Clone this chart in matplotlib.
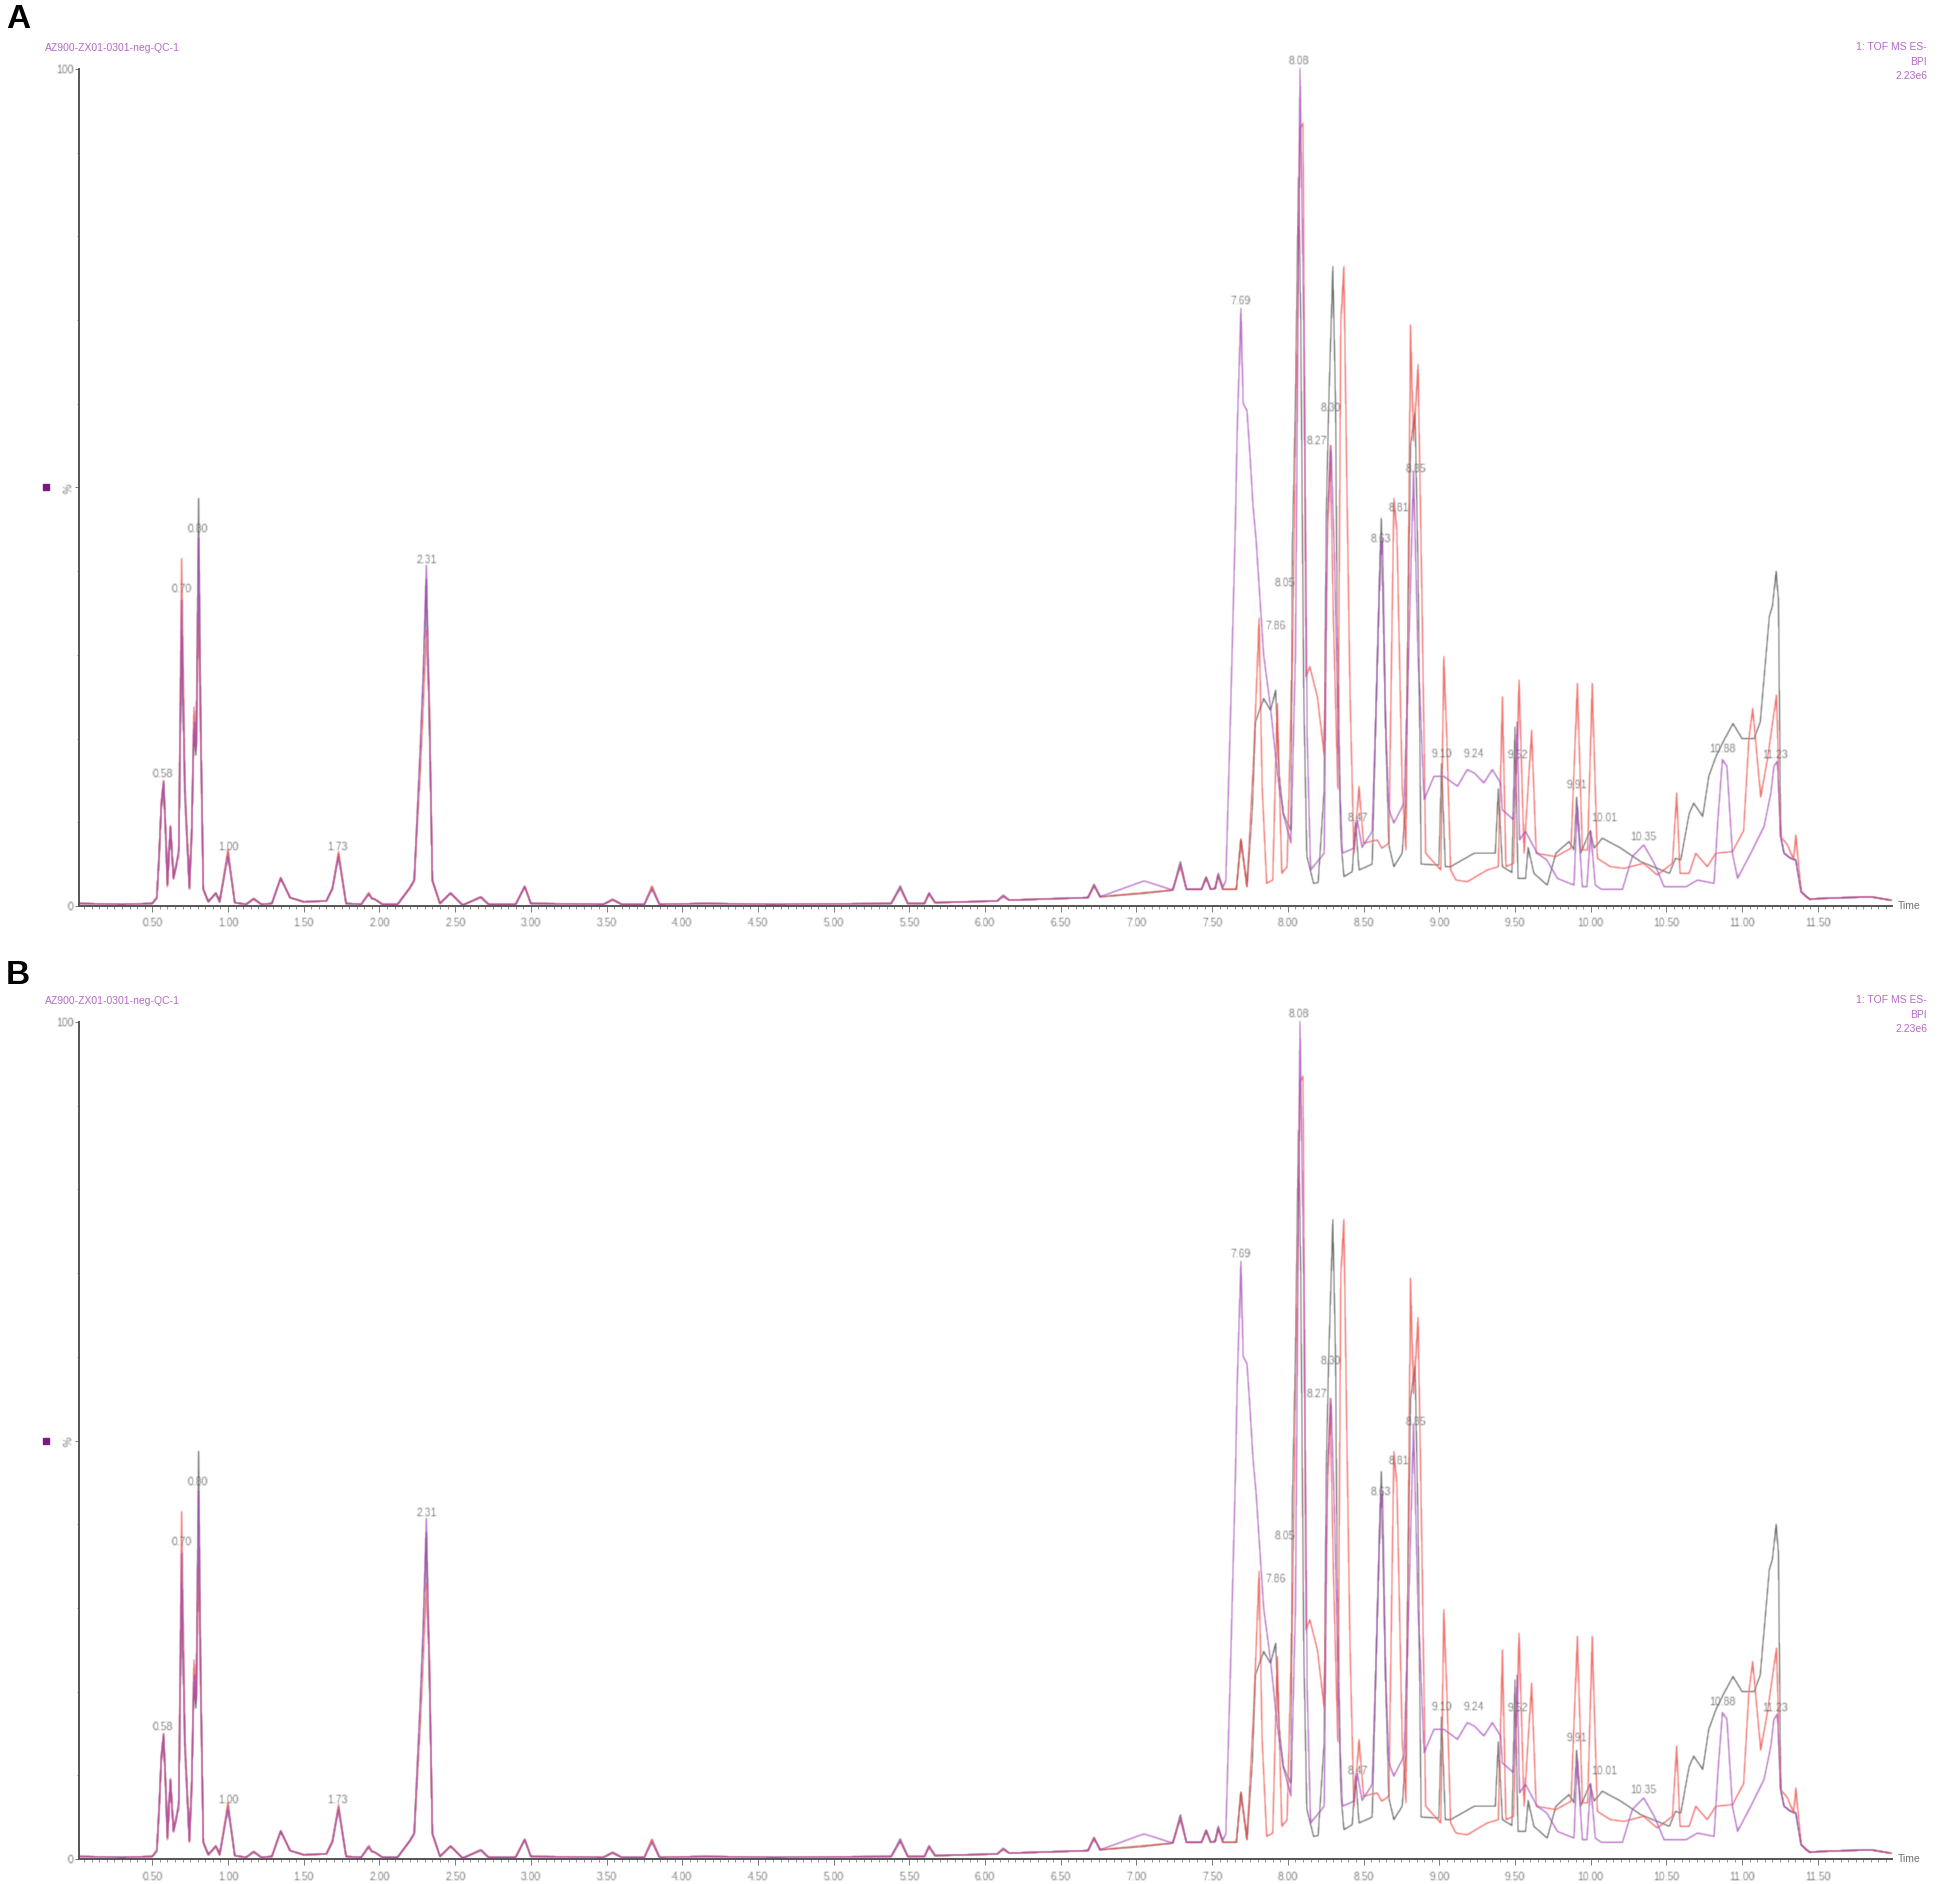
import numpy as np
import matplotlib
matplotlib.use('Agg')
import matplotlib.pyplot as plt
from matplotlib.ticker import FixedLocator, MultipleLocator

plt.rcParams['font.family'] = ['Liberation Sans', 'DejaVu Sans']

# shared retention times up to 7.57 min
t_early = [0.02, 0.30, 0.50, 0.53, 0.545, 0.56, 0.575, 0.59, 0.60, 0.62, 0.64, 0.66, 0.675, 0.694, 0.715,
           0.745, 0.76, 0.775, 0.79, 0.806, 0.82, 0.837, 0.87, 0.92, 0.945, 1.00, 1.045, 1.12, 1.17, 1.22,
           1.29, 1.348, 1.41, 1.50, 1.65, 1.69, 1.73, 1.78, 1.88, 1.93, 1.95, 1.97, 2.02, 2.12, 2.20, 2.23,
           2.27, 2.29, 2.31, 2.33, 2.35, 2.40, 2.47, 2.55, 2.67, 2.72, 2.90, 2.96, 3.00, 3.48, 3.54, 3.60,
           3.75, 3.80, 3.85, 4.15, 4.60, 5.38, 5.44, 5.49, 5.60, 5.63, 5.67, 6.08, 6.12, 6.16, 6.68, 6.72,
           6.76, 7.05, 7.24, 7.29, 7.33, 7.43, 7.46, 7.49, 7.52, 7.54, 7.57]
early_black = [0.3, 0.2, 0.3, 1.0, 6.0, 12.0, 14.6, 8.0, 2.6, 9.4, 3.4, 5.0, 6.5, 33.0, 14.0,
               2.1, 9.0, 20.6, 18.0, 48.7, 22.0, 2.0, 0.5, 1.5, 0.5, 6.3, 0.4, 0.2, 0.9, 0.2,
               0.3, 3.3, 1.0, 0.5, 0.6, 2.2, 6.2, 0.3, 0.2, 1.5, 0.9, 0.8, 0.2, 0.2, 2.1, 3.0,
               18.0, 27.0, 39.0, 22.0, 3.0, 0.3, 1.5, 0.1, 1.1, 0.2, 0.2, 2.3, 0.3, 0.2, 0.8, 0.2,
               0.2, 2.2, 0.2, 0.3, 0.2, 0.3, 2.4, 0.3, 0.3, 1.5, 0.4, 0.6, 1.3, 0.7, 1.0, 2.6,
               1.1, 1.5, 1.9, 5.3, 2.0, 2.0, 3.5, 2.0, 2.1, 3.9, 2.0]
early_red = [0.3, 0.2, 0.3, 1.1, 5.5, 12.5, 14.9, 7.5, 2.3, 9.6, 3.3, 5.2, 6.0, 41.5, 15.0,
             2.0, 8.0, 23.8, 19.0, 37.0, 20.0, 2.0, 0.5, 1.5, 0.5, 6.8, 0.4, 0.2, 0.9, 0.2,
             0.3, 3.3, 1.0, 0.5, 0.6, 2.0, 6.5, 0.3, 0.2, 1.6, 0.9, 0.8, 0.2, 0.2, 2.1, 3.0,
             16.0, 24.0, 33.0, 24.0, 3.0, 0.3, 1.5, 0.1, 1.1, 0.2, 0.2, 2.3, 0.3, 0.2, 0.8, 0.2,
             0.2, 2.4, 0.2, 0.3, 0.2, 0.3, 2.1, 0.3, 0.3, 1.4, 0.4, 0.6, 1.1, 0.7, 1.0, 2.4,
             1.1, 1.6, 1.9, 4.8, 2.0, 2.0, 3.3, 2.0, 2.1, 3.6, 2.0]
early_purple = [0.3, 0.2, 0.3, 0.9, 6.2, 12.2, 15.0, 8.3, 2.5, 9.5, 3.2, 4.8, 7.0, 36.5, 13.0,
                2.2, 8.5, 22.0, 18.5, 44.0, 21.0, 2.0, 0.5, 1.6, 0.5, 6.0, 0.4, 0.2, 0.8, 0.2,
                0.3, 3.4, 1.0, 0.5, 0.6, 2.1, 5.9, 0.3, 0.2, 1.4, 0.9, 0.8, 0.2, 0.2, 2.2, 3.1,
                19.0, 28.0, 40.7, 23.0, 3.1, 0.3, 1.6, 0.1, 1.0, 0.2, 0.2, 2.4, 0.3, 0.2, 0.7, 0.2,
                0.2, 2.0, 0.2, 0.3, 0.2, 0.3, 2.2, 0.3, 0.3, 1.6, 0.4, 0.6, 1.2, 0.7, 1.0, 2.5,
                1.1, 3.0, 1.9, 5.0, 2.0, 2.0, 3.4, 2.0, 2.1, 3.7, 2.2]

# each trace separates after 7.6 min
t_black = [7.62, 7.66, 7.69, 7.73, 7.765, 7.786, 7.84, 7.885, 7.92, 7.94, 7.97, 8.02, 8.03, 8.05, 8.07, 8.085,
           8.105, 8.125, 8.17, 8.20, 8.24, 8.253, 8.27, 8.297, 8.315, 8.325, 8.35, 8.37, 8.425, 8.447, 8.47,
           8.557, 8.58, 8.617, 8.645, 8.667, 8.70, 8.755, 8.777, 8.81, 8.84, 8.86, 8.88, 8.998, 9.015, 9.04,
           9.075, 9.23, 9.37, 9.39, 9.417, 9.48, 9.50, 9.52, 9.57, 9.587, 9.625, 9.713, 9.77, 9.857, 9.89,
           9.907, 9.934, 9.996, 10.022, 10.077, 10.20, 10.33, 10.52, 10.56, 10.595, 10.65, 10.68, 10.74,
           10.78, 10.826, 10.88, 10.94, 11.00, 11.08, 11.12, 11.18, 11.20, 11.225, 11.24, 11.255, 11.277,
           11.32, 11.355, 11.39, 11.445, 11.52, 11.85, 11.98]
v_black = [2.0, 2.0, 8.0, 2.3, 11.5, 22.0, 24.8, 23.4, 25.8, 16.0, 11.0, 9.0, 43.0, 60.0, 87.0, 70.0,
           25.0, 6.0, 2.7, 2.8, 14.0, 46.0, 60.0, 76.4, 60.0, 35.0, 8.0, 3.5, 4.1, 10.0, 4.3,
           5.0, 22.0, 46.3, 22.0, 7.3, 4.7, 6.3, 12.0, 55.0, 58.9, 40.0, 5.0, 4.9, 17.0, 4.7,
           4.7, 6.3, 6.3, 14.0, 4.7, 4.0, 21.4, 3.3, 3.3, 7.0, 3.9, 2.5, 6.3, 7.7, 6.7,
           13.0, 6.3, 9.0, 6.9, 8.1, 6.9, 5.3, 3.9, 5.7, 5.5, 11.0, 12.3, 10.7,
           15.5, 17.8, 19.8, 21.8, 20.0, 20.0, 22.0, 34.6, 35.8, 40.0, 36.6, 8.3, 6.3,
           5.7, 5.5, 1.7, 0.8, 0.9, 1.1, 0.7]

t_red = [7.62, 7.66, 7.69, 7.73, 7.775, 7.81, 7.83, 7.86, 7.90, 7.93, 7.96, 7.995, 8.03, 8.05, 8.08, 8.10, 8.12,
         8.145, 8.195, 8.24, 8.255, 8.28, 8.30, 8.33, 8.35, 8.37, 8.39, 8.41, 8.436, 8.47, 8.50, 8.59, 8.62,
         8.667, 8.70, 8.72, 8.755, 8.78, 8.81, 8.83, 8.86, 8.888, 8.91, 9.01, 9.03, 9.05, 9.075, 9.11, 9.185,
         9.317, 9.39, 9.417, 9.44, 9.49, 9.527, 9.56, 9.61, 9.64, 9.77, 9.87, 9.912, 9.945, 9.98, 10.01,
         10.044, 10.13, 10.22, 10.35, 10.44, 10.54, 10.568, 10.59, 10.65, 10.694, 10.77, 10.826, 10.936,
         11.01, 11.045, 11.07, 11.123, 11.167, 11.227, 11.255, 11.30, 11.34, 11.355, 11.39, 11.445, 11.52,
         11.85, 11.98]
v_red = [2.0, 2.0, 8.0, 2.3, 18.0, 34.4, 14.3, 2.7, 3.1, 24.2, 3.9, 4.7, 30.0, 55.0, 93.0, 93.5, 27.4,
         28.6, 25.0, 18.0, 40.0, 55.0, 35.0, 14.0, 70.0, 76.4, 50.0, 26.0, 6.3, 14.3, 7.5, 7.9, 6.9,
         7.5, 48.7, 45.0, 14.3, 6.7, 69.4, 55.6, 64.7, 34.0, 6.3, 4.3, 29.8, 20.0, 4.3, 3.1, 2.9,
         4.3, 4.7, 25.0, 4.7, 5.1, 27.0, 6.3, 21.0, 6.3, 5.9, 6.9, 26.6, 6.7, 6.7, 26.6,
         5.7, 4.7, 4.5, 5.1, 3.7, 5.1, 13.5, 3.9, 3.9, 6.3, 4.7, 6.3, 6.5,
         9.0, 20.0, 23.6, 13.0, 17.5, 25.2, 8.3, 7.3, 5.5, 8.5, 1.7, 0.8, 0.9,
         1.1, 0.7]

t_purple = [7.59, 7.62, 7.654, 7.665, 7.69, 7.705, 7.73, 7.75, 7.77, 7.79, 7.84, 7.885, 7.93, 7.97, 8.02, 8.05, 8.08,
            8.105, 8.128, 8.15, 8.24, 8.26, 8.285, 8.31, 8.34, 8.36, 8.436, 8.458, 8.49, 8.557, 8.58, 8.61,
            8.625, 8.645, 8.667, 8.70, 8.767, 8.79, 8.83, 8.86, 8.90, 8.965, 9.03, 9.12, 9.185, 9.23, 9.295,
            9.35, 9.405, 9.416, 9.49, 9.515, 9.53, 9.57, 9.647, 9.71, 9.78, 9.89, 9.91, 9.945, 9.975, 10.00,
            10.03, 10.07, 10.21, 10.275, 10.35, 10.42, 10.485, 10.56, 10.63, 10.705, 10.815, 10.84, 10.87,
            10.90, 10.936, 10.97, 11.057, 11.145, 11.19, 11.21, 11.233, 11.255, 11.277, 11.32, 11.355, 11.39,
            11.445, 11.52, 11.85, 11.98]
v_purple = [3.0, 22.0, 46.0, 56.5, 71.4, 60.0, 59.2, 53.8, 47.8, 43.8, 30.0, 23.8, 16.0, 11.0, 7.5, 30.0, 100.0,
            70.0, 20.0, 4.3, 6.3, 46.0, 55.0, 40.0, 15.0, 6.3, 6.9, 10.3, 7.0, 8.9, 22.0, 42.0,
            44.0, 22.0, 11.5, 9.9, 12.3, 25.0, 52.0, 30.0, 12.7, 15.5, 15.5, 14.3, 16.3, 15.9, 14.7,
            16.3, 14.7, 11.5, 10.3, 22.0, 7.9, 8.9, 6.3, 5.5, 3.3, 2.5, 12.0, 2.3, 2.3, 9.0,
            2.5, 2.0, 2.0, 5.9, 7.3, 5.1, 2.3, 2.3, 2.3, 3.1, 2.7, 10.3, 17.5,
            16.7, 6.3, 3.3, 6.3, 9.5, 13.5, 16.7, 17.3, 8.3, 6.3, 5.7, 5.5, 1.7,
            0.8, 0.9, 1.1, 0.7]

# peak annotations: text, time and height of the label
peak_names = ['0.58', '0.70', '0.80', '1.00', '1.73', '2.31', '7.69', '8.08', '8.30', '8.27', '8.85', '8.81',
              '8.63', '8.05', '7.86', '9.10', '9.24', '9.52', '9.91', '10.01', '10.35', '8.47', '10.88', '11.23']
peak_t = [0.572, 0.694, 0.80, 1.00, 1.72, 2.31, 7.685, 8.07, 8.28, 8.19, 8.845, 8.73,
          8.615, 7.98, 7.92, 9.015, 9.23, 9.515, 9.905, 10.09, 10.35, 8.46, 10.87, 11.22]
peak_v = [15.8, 37.9, 45.1, 7.0, 7.0, 41.3, 72.3, 100.9, 59.5, 55.5, 52.2, 47.5,
          43.9, 38.6, 33.4, 18.2, 18.2, 18.0, 14.5, 10.5, 8.3, 10.5, 18.8, 18.0]

panel_names = ['A', 'B']
x_major = [0.5 * i for i in range(1, 24)]

W, H = 1938, 1884
PURPLE = '#a94fbb'
RED = '#f0504c'
GREY = '#4a4a4a'
TEXT = '#6e6e6e'


def soften(image, dpi):
    # reference is a blurry screenshot, small box blur on the drawn layer
    pad = 2
    img = np.pad(image, ((pad, pad), (pad, pad), (0, 0)))
    kernel = np.array([0.2, 0.6, 0.2])
    for axis in (0, 1):
        img = np.apply_along_axis(lambda v: np.convolve(v, kernel, mode='same'), axis, img)
    return img, -pad, -pad


def draw_panel(fig, name, y100, y0, label_y):
    x0, x1 = 79, 1892
    ax = fig.add_axes([x0 / W, 1 - y0 / H, (x1 - x0) / W, (y0 - y100) / H])
    ax.patch.set_alpha(0)
    for spine in ['top', 'right']:
        ax.spines[spine].set_visible(False)
    for spine in ['left', 'bottom']:
        ax.spines[spine].set_linewidth(1.4)
        ax.spines[spine].set_color('#555555')
    ax.set_xlim(0.016, 11.99)
    ax.set_ylim(0, 100)

    series = [(t_black, early_black, v_black, GREY, 1.0),
              (t_red, early_red, v_red, RED, 1.1),
              (t_purple, early_purple, v_purple, PURPLE, 1.1)]
    for t_late, early, late, col, lw in series:
        t = np.concatenate([t_early, t_late])
        v = np.concatenate([early, late])
        line, = ax.plot(t, v, color=col, lw=lw, alpha=0.85, clip_on=False, solid_joinstyle='round')
        line.set_agg_filter(soften)

    ax.xaxis.set_major_locator(FixedLocator(x_major))
    ax.xaxis.set_minor_locator(MultipleLocator(0.05))
    ax.tick_params(axis='x', which='major', length=4, width=0.6, color='#666666', pad=5,
                   labelsize=7.5, labelcolor=TEXT)
    ax.tick_params(axis='x', which='minor', length=2.5, width=0.5, color='#666666')
    ax.set_xticklabels(['%.2f' % v for v in x_major])
    ax.yaxis.set_major_locator(FixedLocator([0, 50, 100]))
    ax.yaxis.set_minor_locator(MultipleLocator(10))
    ax.tick_params(axis='y', which='major', length=3, width=0.6, color='#666666', pad=1,
                   labelsize=7.5, labelcolor=TEXT)
    ax.tick_params(axis='y', which='minor', length=1.5, width=0.5, color='#666666')
    ax.set_yticklabels(['0', '%', '100'])
    ax.get_yticklabels()[1].set_rotation(90)

    for txt, t, v in zip(peak_names, peak_t, peak_v):
        lab = ax.text(t, v, txt, ha='center', va='center', fontsize=7.5, color=TEXT)
        lab.set_agg_filter(soften)

    ax.plot([-0.2], [50], marker='s', ms=4.5, color='#7d1a82', clip_on=False, ls='none')
    ax.text(1892 / W + 0.003, 0, 'Time', transform=ax.get_xaxis_transform(), alpha=0)
    ax.annotate('Time', xy=(1, 0), xycoords='axes fraction', xytext=(4, 0), textcoords='offset points',
                va='center', ha='left', fontsize=7.5, color=TEXT)

    for txt in ax.get_xticklabels() + ax.get_yticklabels():
        txt.set_agg_filter(soften)

    top = y100 - 21
    fig.text(45 / W, 1 - top / H, 'AZ900-ZX01-0301-neg-QC-1', fontsize=7.5, color=PURPLE, va='center', alpha=0.85)
    fig.text(1927 / W, 1 - (top - 1) / H, '1: TOF MS ES-', fontsize=7.5, color=PURPLE, va='center', ha='right', alpha=0.85)
    fig.text(1927 / W, 1 - (top + 14) / H, 'BPI', fontsize=7.5, color=PURPLE, va='center', ha='right', alpha=0.85)
    fig.text(1927 / W, 1 - (top + 28) / H, '2.23e6', fontsize=7.5, color=PURPLE, va='center', ha='right', alpha=0.85)
    fig.text(6 / W, 1 - label_y / H, name, fontsize=24, fontweight='bold', color='black', va='center')


fig = plt.figure(figsize=(W / 100, H / 100), dpi=100, facecolor='white')
draw_panel(fig, panel_names[0], 69, 906, 19)
draw_panel(fig, panel_names[1], 1022, 1859, 975)
fig.savefig('out.png', dpi=100, facecolor='white')
